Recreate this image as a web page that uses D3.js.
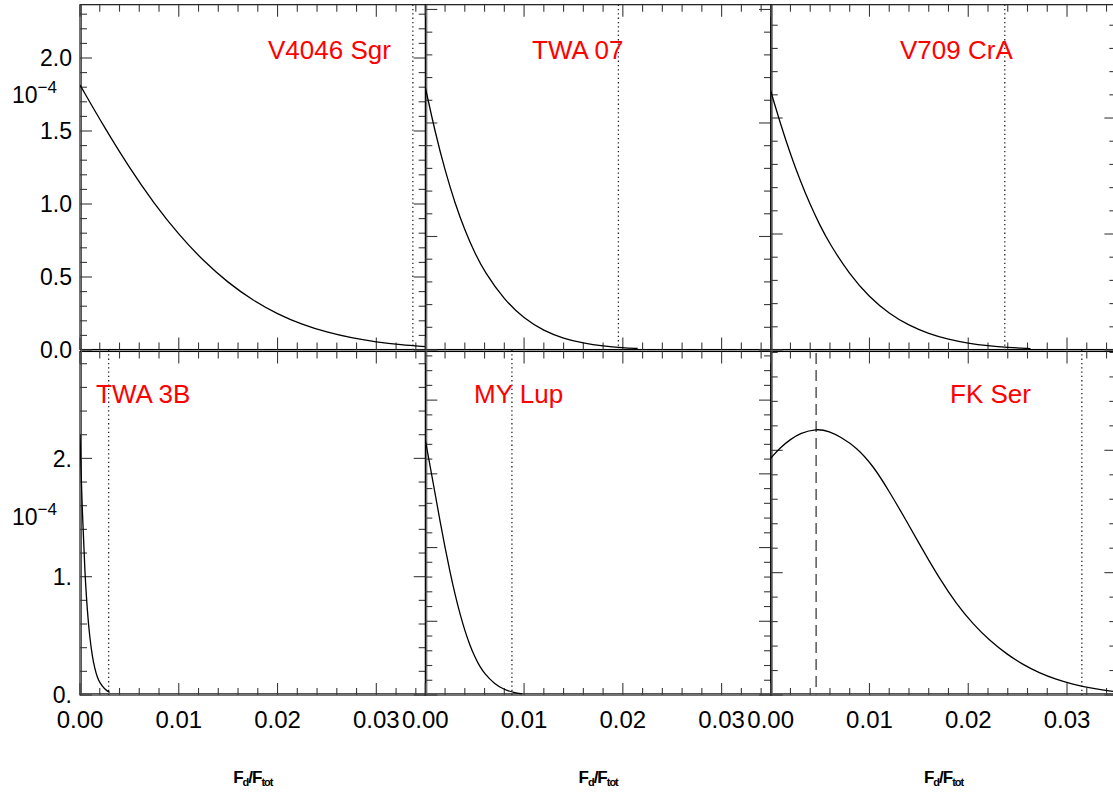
<!DOCTYPE html>
<html><head><meta charset="utf-8">
<script src="https://cdn.jsdelivr.net/npm/d3@7"></script>
<style>
body{margin:0;background:#fff;}
svg{display:block;font-family:"Liberation Sans",Arial,Helvetica,sans-serif;}
</style></head><body>
<svg id="c" width="1113" height="796"></svg>
<script>
// ---------------- data ----------------
const panelNames = ["V4046 Sgr", "TWA 07", "V709 CrA", "TWA 3B", "MY Lup", "FK Ser"];

const v4046X = [0, 0.0025, 0.005, 0.0075, 0.01, 0.0125, 0.015, 0.0175, 0.02, 0.0225, 0.025, 0.0275, 0.03, 0.0325, 0.035];
const v4046Y = [1.815, 1.521, 1.248, 1.003, 0.790, 0.609, 0.460, 0.340, 0.246, 0.174, 0.121, 0.082, 0.055, 0.036, 0.023];

const twa07X = [0, 0.001, 0.002, 0.003, 0.004, 0.005, 0.006, 0.008, 0.010, 0.012, 0.014, 0.016, 0.018, 0.020, 0.0215];
const twa07Y = [2.315, 1.917, 1.580, 1.294, 1.055, 0.855, 0.689, 0.441, 0.276, 0.169, 0.101, 0.060, 0.034, 0.019, 0.013];

const v709X = [0, 0.001, 0.002, 0.003, 0.004, 0.005, 0.006, 0.008, 0.010, 0.012, 0.014, 0.016, 0.018, 0.020, 0.022, 0.024, 0.0263];
const v709Y = [2.233, 1.946, 1.688, 1.457, 1.252, 1.071, 0.911, 0.650, 0.455, 0.313, 0.211, 0.140, 0.091, 0.058, 0.036, 0.022, 0.012];

const twa3bX = [0, 0.00025, 0.0005, 0.00075, 0.001, 0.00125, 0.0015, 0.00175, 0.002, 0.0025, 0.003];
const twa3bY = [2.20, 1.50, 1.024, 0.698, 0.476, 0.325, 0.222, 0.151, 0.103, 0.048, 0.022];

const myLupX = [0, 0.0005, 0.001, 0.0015, 0.002, 0.0025, 0.003, 0.0035, 0.004, 0.0045, 0.005, 0.0055, 0.006, 0.007, 0.008, 0.009, 0.0098];
const myLupY = [1.730, 1.548, 1.362, 1.176, 0.999, 0.834, 0.684, 0.552, 0.437, 0.340, 0.260, 0.195, 0.145, 0.075, 0.036, 0.016, 0.008];

const fkSerX = [0, 0.001, 0.002, 0.003, 0.0046, 0.006, 0.007, 0.0087, 0.0104, 0.012, 0.0138, 0.0154, 0.0171, 0.0188, 0.0205, 0.0222, 0.0239, 0.0255, 0.0272, 0.0289, 0.0306, 0.0323, 0.0345, 0.0352];
const fkSerY = [1.935, 2.025, 2.090, 2.140, 2.178, 2.155, 2.112, 2.025, 1.870, 1.665, 1.415, 1.185, 0.950, 0.745, 0.578, 0.442, 0.334, 0.250, 0.180, 0.127, 0.087, 0.057, 0.031, 0.025];

const dottedX = [0.0337, 0.01955, 0.0237, 0.0029, 0.00877, 0.0315];
const dashedX = [null, null, null, null, null, 0.0046];

const xTickLabels = ["0.00", "0.01", "0.02", "0.03"];
const xTickValues = [0, 0.01, 0.02, 0.03];
const topYTickValues = [0, 0.5, 1.0, 1.5, 2.0];
const topYTickLabels = ["0.0", "0.5", "1.0", "1.5", "2.0"];
const botYTickValues = [0, 1, 2];
const botYTickLabels = ["0.", "1.", "2."];
const axisTitle = ["F", "d", "/F", "tot"];

// ---------------- layout / styling ----------------
const series = [[v4046X, v4046Y], [twa07X, twa07Y], [v709X, v709Y], [twa3bX, twa3bY], [myLupX, myLupY], [fkSerX, fkSerY]];
const yCfg = [
  {max: 2.365, major: 0.5, minor: 0.1},
  {max: 3.042, major: 1, minor: 0.2},
  {max: 2.977, major: 1, minor: 0.2},
  {max: 2.916, major: 1, minor: 0.2},
  {max: 2.340, major: 0.5, minor: 0.1},
  {max: 2.820, major: 1, minor: 0.2}
];
const colLeft = [80, 425.3, 770.7];
const panelW = 345.7;
const rowZero = [350, 695];
const rowTop = [4.7, 350];
const labelPos = [[268, 59], [532, 59], [900, 59], [96, 403], [474, 403], [950, 403]];

const svg = d3.select("#c");
const tickCol = "#3a3a3a";

panelNames.forEach((name, i) => {
  const r = Math.floor(i / 3), c = i % 3;
  const x0 = colLeft[c], x1 = x0 + panelW;
  const y0 = rowZero[r], yT = rowTop[r];
  const cfg = yCfg[i];
  const x = d3.scaleLinear().domain([0, 0.035]).range([x0, x1]);
  const y = d3.scaleLinear().domain([0, cfg.max]).range([y0, yT]);
  const g = svg.append("g");

  const cid = "clip" + i;
  svg.append("clipPath").attr("id", cid).append("rect")
    .attr("x", x0).attr("y", yT).attr("width", panelW).attr("height", y0 - yT);

  const fTop = r === 0 ? yT : yT + 1.5;
  const fBot = r === 0 ? y0 - 0.5 : y0;
  g.append("rect").attr("x", x0).attr("y", fTop).attr("width", panelW).attr("height", fBot - fTop)
    .attr("fill", "none").attr("stroke", "#000").attr("stroke-width", 1.1);
  g.append("line").attr("x1", x0 + 1.5).attr("x2", x0 + 1.5).attr("y1", yT).attr("y2", y0)
    .attr("stroke", "#555").attr("stroke-width", 1);
  g.append("line").attr("x1", x0).attr("x2", x1).attr("y1", y0 + (r === 0 ? 1 : -1.5)).attr("y2", y0 + (r === 0 ? 1 : -1.5))
    .attr("stroke", "#555").attr("stroke-width", 1);

  const xMinor = d3.range(0, 0.0351, 0.002).filter(v => Math.abs(v / 0.01 - Math.round(v / 0.01)) > 1e-6);
  const drawX = (vals, len) => {
    vals.forEach(v => {
      g.append("line").attr("x1", x(v)).attr("x2", x(v)).attr("y1", fTop).attr("y2", fTop + len).attr("stroke", tickCol).attr("stroke-width", 1.1);
      g.append("line").attr("x1", x(v)).attr("x2", x(v)).attr("y1", fBot).attr("y2", fBot - len).attr("stroke", tickCol).attr("stroke-width", 1.1);
    });
  };
  drawX(xTickValues, 12);
  drawX(xMinor, 7);

  const nMaj = Math.floor(cfg.max / cfg.major + 1e-9);
  const yMajor = d3.range(0, nMaj + 1).map(k => k * cfg.major);
  const ratio = Math.round(cfg.major / cfg.minor);
  const yMinor = d3.range(0, Math.floor(cfg.max / cfg.minor + 1e-9) + 1).filter(k => k % ratio !== 0).map(k => k * cfg.minor);
  const drawY = (vals, len) => {
    vals.forEach(v => {
      g.append("line").attr("x1", x0).attr("x2", x0 + len).attr("y1", y(v)).attr("y2", y(v)).attr("stroke", tickCol).attr("stroke-width", 1.1);
      g.append("line").attr("x1", x1).attr("x2", x1 - len).attr("y1", y(v)).attr("y2", y(v)).attr("stroke", tickCol).attr("stroke-width", 1.1);
    });
  };
  drawY(yMajor, 12);
  drawY(yMinor, 7);

  const pg = g.append("g").attr("clip-path", `url(#${cid})`);
  pg.append("line").attr("x1", x(dottedX[i])).attr("x2", x(dottedX[i])).attr("y1", yT).attr("y2", y0)
    .attr("stroke", "#222").attr("stroke-width", 1.3).attr("stroke-dasharray", "1.3,3");
  if (dashedX[i] !== null) {
    pg.append("line").attr("x1", x(dashedX[i])).attr("x2", x(dashedX[i])).attr("y1", yT + 3).attr("y2", y0)
      .attr("stroke", "#555").attr("stroke-width", 1.5).attr("stroke-dasharray", "11,6");
  }
  const [xs, ys] = series[i];
  const pts = xs.map((v, k) => [v, ys[k]]);
  pg.append("path").datum(pts)
    .attr("d", d3.line().x(d => x(d[0])).y(d => y(d[1])).curve(d3.curveBasis))
    .attr("fill", "none").attr("stroke", "#000").attr("stroke-width", 1.3);

  g.append("text").attr("x", labelPos[i][0]).attr("y", labelPos[i][1])
    .attr("fill", "#ff0000").attr("font-size", 26).text(name);

  if (c === 0) {
    const vals = r === 0 ? topYTickValues : botYTickValues;
    const labs = r === 0 ? topYTickLabels : botYTickLabels;
    vals.forEach((v, k) => {
      g.append("text").attr("x", 72).attr("y", y(v)).attr("dy", "0.36em")
        .attr("text-anchor", "end").attr("font-size", 23).text(labs[k]);
    });
    const t = g.append("text").attr("x", 12).attr("y", r === 0 ? 103 : 525).attr("font-size", 23);
    t.append("tspan").text("10");
    t.append("tspan").attr("dy", -10).attr("font-size", 17).text("\u22124");
  }
  if (r === 1) {
    xTickValues.forEach((v, k) => {
      g.append("text").attr("x", x(v)).attr("y", 728).attr("text-anchor", "middle")
        .attr("font-size", 24).text(xTickLabels[k]);
    });
    const t = g.append("text").attr("x", (x0 + x1) / 2).attr("y", 783).attr("text-anchor", "middle")
      .attr("font-size", 17).attr("font-weight", "bold").attr("letter-spacing", -1);
    t.append("tspan").text(axisTitle[0]);
    t.append("tspan").attr("font-size", 11).attr("dy", 3).text(axisTitle[1]);
    t.append("tspan").attr("dy", -3).text(axisTitle[2]);
    t.append("tspan").attr("font-size", 11).attr("dy", 3).text(axisTitle[3]);
  }
});
</script>
</body></html>
